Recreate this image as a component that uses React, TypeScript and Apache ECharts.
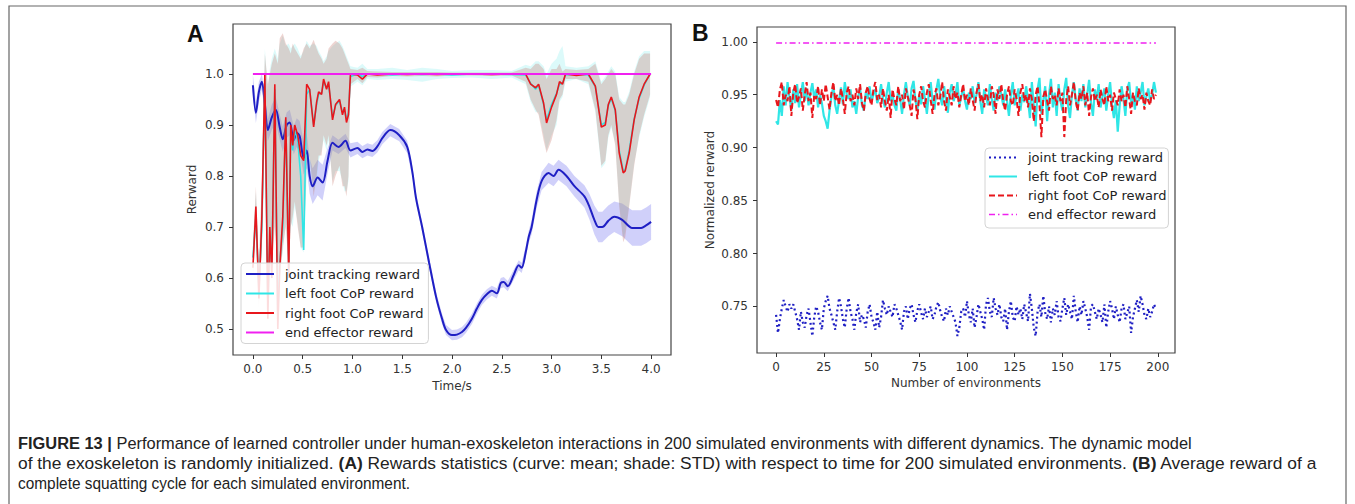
import React, { useEffect, useRef } from 'react';
import * as echarts from 'echarts';

// ---------- Panel A: reward vs time ----------
const A_X_TICKS = [0, 0.5, 1, 1.5, 2, 2.5, 3, 3.5, 4];
const A_Y_TICKS = [0.5, 0.6, 0.7, 0.8, 0.9, 1.0];
const LEGEND_NAMES = ['joint tracking reward', 'left foot CoP reward', 'right foot CoP reward', 'end effector reward'];

const JOINT_T = [
  0.00, 0.03, 0.06, 0.09, 0.12, 0.15, 0.19, 0.23, 0.27, 0.30,
  0.34, 0.37, 0.41, 0.44, 0.47, 0.51, 0.54, 0.57, 0.60, 0.65,
  0.70, 0.75, 0.80, 0.86, 0.93, 0.98, 1.05, 1.10, 1.15, 1.20,
  1.25, 1.30, 1.38, 1.47, 1.55, 1.60, 1.64, 1.70, 1.77, 1.84,
  1.90, 1.94, 2.00, 2.05, 2.10, 2.14, 2.20, 2.25, 2.30, 2.35,
  2.40, 2.45, 2.49, 2.52, 2.56, 2.62, 2.67, 2.70, 2.74, 2.77,
  2.80, 2.85, 2.90, 2.97, 3.02, 3.07, 3.15, 3.23, 3.33, 3.38,
  3.43, 3.47, 3.51, 3.57, 3.63, 3.71, 3.81, 3.90, 3.95, 4.00,
];
const JOINT_MEAN = [
  0.978, 0.924, 0.965, 0.985, 0.940, 0.890, 0.915, 0.930, 0.895, 0.872,
  0.900, 0.905, 0.870, 0.885, 0.878, 0.835, 0.850, 0.800, 0.780, 0.797,
  0.787, 0.830, 0.865, 0.857, 0.869, 0.850, 0.855, 0.847, 0.852, 0.849,
  0.858, 0.874, 0.890, 0.880, 0.857, 0.810, 0.755, 0.700, 0.630, 0.563,
  0.520, 0.498, 0.488, 0.489, 0.494, 0.502, 0.520, 0.540, 0.557, 0.568,
  0.575, 0.570, 0.590, 0.592, 0.584, 0.606, 0.625, 0.620, 0.650, 0.680,
  0.700, 0.753, 0.790, 0.806, 0.800, 0.812, 0.800, 0.780, 0.760, 0.740,
  0.714, 0.700, 0.700, 0.712, 0.720, 0.714, 0.698, 0.698, 0.703, 0.710,
];
const JOINT_STD = [
  0.020, 0.020, 0.020, 0.015, 0.020, 0.022, 0.025, 0.025, 0.025, 0.025,
  0.025, 0.025, 0.028, 0.028, 0.030, 0.032, 0.035, 0.035, 0.035, 0.035,
  0.035, 0.025, 0.015, 0.014, 0.014, 0.014, 0.012, 0.012, 0.012, 0.012,
  0.012, 0.012, 0.012, 0.012, 0.012, 0.010, 0.010, 0.010, 0.010, 0.010,
  0.010, 0.010, 0.010, 0.010, 0.010, 0.010, 0.010, 0.010, 0.010, 0.010,
  0.010, 0.010, 0.010, 0.010, 0.010, 0.010, 0.010, 0.010, 0.012, 0.012,
  0.014, 0.016, 0.018, 0.020, 0.020, 0.020, 0.020, 0.020, 0.022, 0.025,
  0.028, 0.030, 0.030, 0.030, 0.030, 0.032, 0.035, 0.035, 0.035, 0.035,
];

const FOOT_T = [
  0.00, 0.03, 0.06, 0.09, 0.12, 0.15, 0.17, 0.19, 0.22, 0.25,
  0.27, 0.30, 0.33, 0.36, 0.38, 0.40, 0.42, 0.45, 0.48, 0.51,
  0.54, 0.57, 0.61, 0.64, 0.66, 0.69, 0.71, 0.74, 0.76, 0.80,
  0.83, 0.87, 0.90, 0.92, 0.94, 0.96, 0.98, 1.05, 1.10, 1.15,
  1.25, 1.40, 1.55, 1.70, 1.85, 2.00, 2.20, 2.40, 2.60, 2.74,
  2.79, 2.84, 2.87, 2.92, 2.95, 3.00, 3.05, 3.08, 3.11, 3.14,
  3.25, 3.37, 3.44, 3.50, 3.54, 3.57, 3.60, 3.64, 3.68, 3.72,
  3.74, 3.78, 3.83, 3.88, 3.93, 3.99,
];
const RIGHT_MEAN = [
  0.62, 0.74, 0.56, 0.72, 1.00, 0.52, 0.70, 0.60, 0.98, 0.50,
  0.62, 0.72, 0.915, 0.60, 0.90, 0.86, 0.90, 0.88, 0.84, 0.83,
  0.98, 0.97, 0.896, 0.945, 0.965, 0.96, 0.99, 0.97, 0.985, 0.91,
  0.94, 0.95, 0.92, 0.935, 0.905, 0.92, 1.00, 0.998, 0.99, 1.00,
  0.998, 1.00, 0.999, 1.00, 0.999, 1.00, 1.00, 0.999, 1.00, 1.00,
  0.98, 0.973, 0.98, 0.943, 0.904, 0.935, 0.96, 0.985, 0.98, 1.00,
  0.997, 1.00, 0.976, 0.896, 0.90, 0.94, 0.955, 0.93, 0.845, 0.806,
  0.81, 0.845, 0.91, 0.955, 0.98, 1.00,
];
// shaded band (mean ± STD) boundaries of the right foot reward
const RIGHT_LO = [
  0.60, 0.70, 0.54, 0.66, 0.88, 0.60, 0.64, 0.62, 0.70, 0.62,
  0.60, 0.66, 0.70, 0.62, 0.70, 0.72, 0.75, 0.70, 0.66, 0.66,
  0.82, 0.84, 0.76, 0.80, 0.84, 0.84, 0.88, 0.86, 0.88, 0.78,
  0.80, 0.82, 0.78, 0.78, 0.76, 0.80, 0.98, 0.99, 0.982, 0.994,
  0.993, 0.996, 0.995, 0.996, 0.995, 0.997, 0.997, 0.996, 0.997, 0.985,
  0.95, 0.93, 0.92, 0.87, 0.845, 0.87, 0.91, 0.95, 0.96, 0.99,
  0.99, 0.985, 0.93, 0.82, 0.83, 0.88, 0.90, 0.86, 0.74, 0.67,
  0.68, 0.74, 0.82, 0.88, 0.92, 0.96,
];
const RIGHT_HI = [
  0.66, 0.78, 0.62, 0.80, 1.04, 0.98, 1.00, 1.02, 1.04, 1.02,
  1.07, 1.08, 1.06, 1.05, 1.04, 1.06, 1.05, 1.04, 1.03, 1.05,
  1.06, 1.05, 1.067, 1.05, 1.04, 1.03, 1.02, 1.03, 1.05, 1.06,
  1.065, 1.06, 1.05, 1.04, 1.03, 1.02, 1.01, 1.008, 1.012, 1.006,
  1.005, 1.004, 1.004, 1.004, 1.004, 1.003, 1.003, 1.003, 1.003, 1.012,
  1.01, 1.02, 1.02, 1.01, 0.99, 1.01, 1.01, 1.02, 1.005, 1.01,
  1.008, 1.01, 1.02, 0.98, 0.99, 1.00, 1.01, 1.00, 0.95, 0.94,
  0.94, 0.96, 1.00, 1.03, 1.04, 1.04,
];
const LEFT_MEAN = [
  0.64, 0.72, 0.58, 0.70, 0.99, 0.55, 0.68, 0.62, 0.97, 0.53,
  0.63, 0.70, 0.91, 0.62, 0.89, 0.85, 0.89, 0.87, 0.80, 0.655,
  0.96, 0.97, 0.90, 0.94, 0.96, 0.962, 0.985, 0.972, 0.98, 0.915,
  0.938, 0.948, 0.925, 0.93, 0.91, 0.925, 0.995, 1.00, 0.995, 1.00,
  1.00, 0.998, 1.00, 0.999, 1.00, 0.998, 1.00, 1.00, 0.999, 0.998,
  0.982, 0.97, 0.978, 0.94, 0.91, 0.94, 0.962, 0.98, 0.982, 0.998,
  1.00, 0.998, 0.975, 0.90, 0.905, 0.938, 0.952, 0.928, 0.85, 0.81,
  0.812, 0.85, 0.912, 0.952, 0.978, 1.00,
];
const LEFT_LO = [
  0.62, 0.69, 0.55, 0.66, 0.90, 0.62, 0.63, 0.63, 0.72, 0.60,
  0.61, 0.65, 0.71, 0.63, 0.71, 0.70, 0.74, 0.71, 0.66, 0.65,
  0.80, 0.83, 0.77, 0.79, 0.83, 0.85, 0.87, 0.85, 0.87, 0.79,
  0.81, 0.81, 0.79, 0.77, 0.77, 0.79, 0.975, 0.985, 0.978, 0.99,
  0.988, 0.99, 0.988, 0.985, 0.99, 0.992, 0.993, 0.99, 0.993, 0.98,
  0.945, 0.925, 0.925, 0.88, 0.85, 0.88, 0.90, 0.945, 0.955, 0.985,
  0.99, 0.98, 0.925, 0.815, 0.825, 0.875, 0.895, 0.865, 0.745, 0.68,
  0.69, 0.745, 0.825, 0.875, 0.915, 0.955,
];
const LEFT_HI = [
  0.67, 0.77, 0.63, 0.78, 1.05, 0.97, 1.01, 1.03, 1.05, 1.03,
  1.06, 1.075, 1.055, 1.06, 1.05, 1.055, 1.06, 1.05, 1.035, 1.045,
  1.065, 1.055, 1.06, 1.055, 1.045, 1.035, 1.025, 1.035, 1.045, 1.055,
  1.06, 1.065, 1.055, 1.045, 1.035, 1.025, 1.015, 1.012, 1.02, 1.01,
  1.01, 1.012, 1.008, 1.012, 1.01, 1.006, 1.008, 1.008, 1.006, 1.018,
  1.015, 1.025, 1.025, 1.015, 1.0, 1.02, 1.03, 1.045, 1.055, 1.015,
  1.012, 1.015, 1.025, 0.985, 0.995, 1.005, 1.015, 1.005, 0.955, 0.945,
  0.945, 0.965, 1.005, 1.035, 1.045, 1.045,
];
const END_A_T = [0, 4];
const END_A = [1.0, 1.0];

// ---------- Panel B: average reward per environment ----------
const B_X_TICKS = [0, 25, 50, 75, 100, 125, 150, 175, 200];
const B_Y_TICKS = [0.75, 0.8, 0.85, 0.9, 0.95, 1.0];

const JOINT_B = [
  0.742, 0.725, 0.738, 0.748, 0.756, 0.750, 0.745, 0.752, 0.748, 0.752, 0.745, 0.738, 0.728, 0.745, 0.735, 0.730, 0.742, 0.748, 0.735, 0.722,
  0.740, 0.750, 0.745, 0.735, 0.728, 0.748, 0.755, 0.760, 0.748, 0.742, 0.735, 0.728, 0.745, 0.758, 0.750, 0.738, 0.730, 0.748, 0.758, 0.745,
  0.738, 0.728, 0.744, 0.752, 0.735, 0.742, 0.738, 0.730, 0.745, 0.752, 0.740, 0.735, 0.728, 0.745, 0.730, 0.740, 0.756, 0.748, 0.742, 0.750,
  0.745, 0.740, 0.752, 0.748, 0.742, 0.736, 0.728, 0.745, 0.750, 0.738, 0.748, 0.752, 0.742, 0.735, 0.746, 0.752, 0.744, 0.738, 0.748, 0.740,
  0.745, 0.750, 0.738, 0.742, 0.750, 0.754, 0.746, 0.740, 0.736, 0.748, 0.742, 0.750, 0.745, 0.740, 0.735, 0.722, 0.730, 0.745, 0.748, 0.740,
  0.755, 0.742, 0.735, 0.748, 0.730, 0.740, 0.752, 0.745, 0.738, 0.728, 0.752, 0.758, 0.745, 0.740, 0.758, 0.748, 0.742, 0.752, 0.740, 0.736,
  0.748, 0.728, 0.745, 0.755, 0.740, 0.736, 0.750, 0.742, 0.748, 0.738, 0.752, 0.744, 0.736, 0.762, 0.748, 0.730, 0.722, 0.745, 0.752, 0.740,
  0.760, 0.744, 0.738, 0.750, 0.735, 0.748, 0.742, 0.755, 0.740, 0.736, 0.748, 0.758, 0.742, 0.752, 0.745, 0.738, 0.760, 0.745, 0.735, 0.750,
  0.742, 0.755, 0.748, 0.740, 0.728, 0.750, 0.752, 0.745, 0.738, 0.748, 0.742, 0.735, 0.752, 0.730, 0.745, 0.755, 0.748, 0.738, 0.750, 0.742,
  0.735, 0.748, 0.752, 0.738, 0.744, 0.750, 0.725, 0.740, 0.748, 0.756, 0.745, 0.760, 0.752, 0.742, 0.738, 0.748, 0.740, 0.745, 0.752, 0.748,
];
const LEFT_B = [
  0.925, 0.922, 0.945, 0.930, 0.958, 0.940, 0.962, 0.948, 0.935, 0.955, 0.942, 0.960, 0.938, 0.950, 0.962, 0.944, 0.956, 0.940, 0.952, 0.961,
  0.946, 0.955, 0.938, 0.950, 0.942, 0.930, 0.925, 0.918, 0.935, 0.948, 0.958, 0.940, 0.932, 0.945, 0.957, 0.941, 0.962, 0.950, 0.946, 0.955,
  0.938, 0.944, 0.932, 0.948, 0.956, 0.940, 0.935, 0.952, 0.946, 0.958, 0.944, 0.950, 0.955, 0.942, 0.948, 0.960, 0.946, 0.938, 0.952, 0.962,
  0.944, 0.950, 0.940, 0.935, 0.955, 0.946, 0.932, 0.950, 0.962, 0.948, 0.940, 0.956, 0.963, 0.945, 0.935, 0.950, 0.941, 0.958, 0.946, 0.932,
  0.950, 0.962, 0.944, 0.936, 0.955, 0.965, 0.948, 0.940, 0.958, 0.945, 0.933, 0.952, 0.960, 0.944, 0.950, 0.962, 0.940, 0.948, 0.956, 0.944,
  0.936, 0.952, 0.946, 0.958, 0.942, 0.950, 0.962, 0.944, 0.932, 0.955, 0.948, 0.940, 0.960, 0.946, 0.935, 0.952, 0.944, 0.958, 0.950, 0.940,
  0.955, 0.944, 0.930, 0.950, 0.962, 0.940, 0.948, 0.956, 0.935, 0.950, 0.943, 0.958, 0.945, 0.928, 0.962, 0.940, 0.920, 0.955, 0.966, 0.932,
  0.945, 0.958, 0.925, 0.950, 0.965, 0.938, 0.952, 0.930, 0.960, 0.944, 0.935, 0.955, 0.966, 0.940, 0.928, 0.950, 0.962, 0.945, 0.935, 0.956,
  0.944, 0.960, 0.938, 0.950, 0.964, 0.942, 0.930, 0.955, 0.946, 0.960, 0.938, 0.948, 0.956, 0.935, 0.950, 0.962, 0.940, 0.928, 0.945, 0.915,
  0.940, 0.958, 0.946, 0.930, 0.955, 0.962, 0.942, 0.950, 0.936, 0.958, 0.944, 0.952, 0.962, 0.940, 0.948, 0.956, 0.944, 0.950, 0.962, 0.952,
];
const RIGHT_B = [
  0.945, 0.938, 0.955, 0.962, 0.940, 0.950, 0.944, 0.958, 0.930, 0.952, 0.960, 0.942, 0.948, 0.956, 0.935, 0.950, 0.962, 0.944, 0.952, 0.928,
  0.950, 0.946, 0.958, 0.940, 0.955, 0.944, 0.960, 0.948, 0.936, 0.952, 0.962, 0.944, 0.950, 0.940, 0.956, 0.946, 0.932, 0.952, 0.958, 0.944,
  0.950, 0.940, 0.956, 0.946, 0.960, 0.942, 0.935, 0.952, 0.958, 0.946, 0.940, 0.955, 0.962, 0.945, 0.950, 0.938, 0.956, 0.944, 0.935, 0.950,
  0.928, 0.955, 0.946, 0.940, 0.958, 0.944, 0.950, 0.936, 0.956, 0.948, 0.940, 0.930, 0.955, 0.946, 0.927, 0.950, 0.958, 0.944, 0.938, 0.952,
  0.960, 0.945, 0.932, 0.950, 0.956, 0.940, 0.948, 0.962, 0.944, 0.935, 0.955, 0.948, 0.940, 0.958, 0.946, 0.952, 0.938, 0.950, 0.960, 0.944,
  0.950, 0.940, 0.956, 0.945, 0.935, 0.952, 0.960, 0.944, 0.950, 0.938, 0.956, 0.946, 0.940, 0.958, 0.950, 0.932, 0.955, 0.946, 0.960, 0.944,
  0.935, 0.950, 0.958, 0.944, 0.940, 0.955, 0.946, 0.930, 0.952, 0.960, 0.944, 0.950, 0.938, 0.956, 0.946, 0.925, 0.950, 0.958, 0.940, 0.910,
  0.948, 0.955, 0.944, 0.935, 0.958, 0.946, 0.950, 0.940, 0.956, 0.944, 0.952, 0.910, 0.945, 0.958, 0.940, 0.950, 0.962, 0.944, 0.935, 0.952,
  0.946, 0.958, 0.940, 0.952, 0.930, 0.948, 0.956, 0.944, 0.950, 0.938, 0.955, 0.946, 0.940, 0.958, 0.944, 0.950, 0.935, 0.952, 0.946, 0.940,
  0.955, 0.944, 0.950, 0.938, 0.958, 0.946, 0.932, 0.952, 0.944, 0.940, 0.956, 0.946, 0.950, 0.936, 0.952, 0.944, 0.940, 0.955, 0.946, 0.950,
];
const END_B_ENV = [0, 199];
const END_B = [0.999, 0.999];

const CAPTION = [
  [{ b: 'FIGURE 13 |' }, { r: ' Performance of learned controller under human-exoskeleton interactions in 200 simulated environments with different dynamics. The dynamic model' }],
  [{ r: 'of the exoskeleton is randomly initialized. ' }, { b: '(A)' }, { r: ' Rewards statistics (curve: mean; shade: STD) with respect to time for 200 simulated environments. ' }, { b: '(B)' }, { r: ' Average reward of a' }],
  [{ r: 'complete squatting cycle for each simulated environment.' }],
];
const CAPTION_WIDTHS = [1175, 1300, 392];

const C_BLUE = '#1f1fc4';
const C_CYAN = '#30e6e6';
const C_RED = '#e8161c';
const C_MAG = '#f020f0';
const FONT = 'DejaVu Sans';
const CAP_FONT = 'Liberation Sans';
const CAP_SIZE = 17;

const pairs = (xs: number[], ys: number[]) => xs.map((x, i) => [x, ys[i]]);

function band(name: string, gi: number, T: number[], lo: number[], hi: number[], fill: string, z: number) {
  return {
    type: 'custom',
    name,
    xAxisIndex: gi,
    yAxisIndex: gi,
    silent: true,
    clip: true,
    z,
    data: [[T[0], lo[0]]],
    encode: { x: 0, y: 1 },
    renderItem: (_p: any, api: any) => {
      const up = T.map((t, i) => api.coord([t, hi[i]]));
      const dn = T.map((t, i) => api.coord([t, lo[i]])).reverse();
      return { type: 'polygon', shape: { points: up.concat(dn) }, style: { fill, stroke: 'none' } };
    },
  };
}

function axis(gi: number, min: number, max: number, ticks: number[], fmt: (v: number) => string, name: string, nameGap: number, margin: number) {
  return {
    type: 'value',
    gridIndex: gi,
    min,
    max,
    name,
    nameLocation: 'middle',
    nameGap,
    nameMoveOverlap: false,
    nameTextStyle: { fontFamily: FONT, fontSize: 12, color: '#333' },
    axisLine: { show: false, onZero: false },
    splitLine: { show: false },
    axisTick: { show: true, inside: false, length: 4, customValues: ticks, lineStyle: { color: '#333', width: 1 } },
    axisLabel: { customValues: ticks, formatter: fmt, fontFamily: FONT, fontSize: 12, color: '#333', margin },
  };
}

function measure(ctx: CanvasRenderingContext2D, parts: any[]) {
  let w = 0;
  for (const p of parts) {
    ctx.font = (p.b ? 'bold ' : '') + CAP_SIZE + 'px "' + CAP_FONT + '"';
    w += ctx.measureText(p.b || p.r).width;
  }
  return w;
}

const HIDE = { color: 'rgba(0,0,0,0)', borderWidth: 0, borderColor: 'rgba(0,0,0,0)' };

export default function App() {
  const ref = useRef<HTMLDivElement>(null);
  useEffect(() => {
    if (!ref.current) return;
    const chart = echarts.init(ref.current, undefined, { renderer: 'svg' });
    const ctx = document.createElement('canvas').getContext('2d') as CanvasRenderingContext2D;
    const capScales = CAPTION.map((parts, i) => CAPTION_WIDTHS[i] / measure(ctx, parts));

    const legendBase = {
      orient: 'vertical',
      itemWidth: 28,
      itemHeight: 14,
      itemGap: 6.5,
      backgroundColor: 'rgba(255,255,255,0.85)',
      borderColor: '#d4d4d4',
      borderWidth: 1,
      borderRadius: 4,
      textStyle: { fontFamily: FONT, fontSize: 13, color: '#222', padding: [0, 0, 0, 6] },
    };
    const option: any = {
      animation: false,
      backgroundColor: '#fff',
      grid: [
        { left: 233, top: 24, width: 438, height: 331, show: true, borderColor: '#444', borderWidth: 1.2, backgroundColor: 'transparent' },
        { left: 757, top: 27, width: 418, height: 326, show: true, borderColor: '#444', borderWidth: 1.2, backgroundColor: 'transparent' },
      ],
      xAxis: [
        axis(0, -0.2, 4.2, A_X_TICKS, (v) => v.toFixed(1), 'Time/s', 25, 8),
        axis(1, -10, 209, B_X_TICKS, (v) => String(Math.round(v)), 'Number of environments', 24, 8),
      ],
      yAxis: [
        axis(0, 0.449, 1.098, A_Y_TICKS, (v) => v.toFixed(1), 'Rerward', 35, 9),
        axis(1, 0.706, 1.014, B_Y_TICKS, (v) => v.toFixed(2), 'Normalized rerward', 41, 9),
      ],
      legend: [
        {
          ...legendBase,
          left: 241,
          top: 263,
          padding: [4.5, 5, 4.5, 4],
          data: [
            { name: LEGEND_NAMES[0], lineStyle: { color: C_BLUE, width: 2, type: 'solid' }, itemStyle: HIDE },
            { name: LEGEND_NAMES[1], lineStyle: { color: C_CYAN, width: 2, type: 'solid' }, itemStyle: HIDE },
            { name: LEGEND_NAMES[2], lineStyle: { color: C_RED, width: 2, type: 'solid' }, itemStyle: HIDE },
            { name: LEGEND_NAMES[3], lineStyle: { color: C_MAG, width: 2, type: 'solid' }, itemStyle: HIDE },
          ],
        },
        {
          ...legendBase,
          left: 985,
          top: 148,
          itemGap: 6,
          padding: [3, 2, 7, 3],
          data: [
            { name: LEGEND_NAMES[0], lineStyle: { color: C_BLUE, width: 2, type: [2, 3] }, itemStyle: HIDE },
            { name: LEGEND_NAMES[1], lineStyle: { color: C_CYAN, width: 2, type: 'solid' }, itemStyle: HIDE },
            { name: LEGEND_NAMES[2], lineStyle: { color: C_RED, width: 2, type: [6, 3] }, itemStyle: HIDE },
            { name: LEGEND_NAMES[3], lineStyle: { color: C_MAG, width: 1.5, type: [6, 3, 1.5, 3] }, itemStyle: HIDE },
          ],
        },
      ],
      series: [
        band('joint band', 0, JOINT_T, JOINT_MEAN.map((m, i) => m - JOINT_STD[i]), JOINT_MEAN.map((m, i) => m + JOINT_STD[i]), 'rgba(100,100,240,0.30)', 1),
        band('left band', 0, FOOT_T, LEFT_LO, LEFT_HI, 'rgba(60,225,225,0.18)', 1),
        band('right band', 0, FOOT_T, RIGHT_LO, RIGHT_HI, 'rgba(200,115,105,0.30)', 1),
        { type: 'line', name: LEGEND_NAMES[0], xAxisIndex: 0, yAxisIndex: 0, data: pairs(JOINT_T, JOINT_MEAN), showSymbol: false, symbol: 'none', smooth: 0.3, lineStyle: { color: C_BLUE, width: 2 }, itemStyle: { color: C_BLUE }, z: 3 },
        { type: 'line', name: LEGEND_NAMES[1], xAxisIndex: 0, yAxisIndex: 0, data: pairs(FOOT_T, LEFT_MEAN), showSymbol: false, symbol: 'none', lineStyle: { color: C_CYAN, width: 1.6 }, itemStyle: { color: C_CYAN }, z: 3 },
        { type: 'line', name: LEGEND_NAMES[2], xAxisIndex: 0, yAxisIndex: 0, data: pairs(FOOT_T, RIGHT_MEAN), showSymbol: false, symbol: 'none', lineStyle: { color: C_RED, width: 1.6 }, itemStyle: { color: C_RED }, z: 3 },
        { type: 'line', name: LEGEND_NAMES[3], xAxisIndex: 0, yAxisIndex: 0, data: pairs(END_A_T, END_A), showSymbol: false, symbol: 'none', lineStyle: { color: C_MAG, width: 2 }, itemStyle: { color: C_MAG }, z: 3 },

        { type: 'line', name: LEGEND_NAMES[0], xAxisIndex: 1, yAxisIndex: 1, data: JOINT_B.map((v, i) => [i, v]), showSymbol: false, symbol: 'none', lineStyle: { color: C_BLUE, width: 2.2, type: [2, 3] }, itemStyle: { color: C_BLUE }, z: 3 },
        { type: 'line', name: LEGEND_NAMES[1], xAxisIndex: 1, yAxisIndex: 1, data: LEFT_B.map((v, i) => [i, v]), showSymbol: false, symbol: 'none', lineStyle: { color: C_CYAN, width: 2.2 }, itemStyle: { color: C_CYAN }, z: 3 },
        { type: 'line', name: LEGEND_NAMES[2], xAxisIndex: 1, yAxisIndex: 1, data: RIGHT_B.map((v, i) => [i, v]), showSymbol: false, symbol: 'none', lineStyle: { color: C_RED, width: 2, type: [6, 3] }, itemStyle: { color: C_RED }, z: 3 },
        { type: 'line', name: LEGEND_NAMES[3], xAxisIndex: 1, yAxisIndex: 1, data: pairs(END_B_ENV, END_B), showSymbol: false, symbol: 'none', lineStyle: { color: C_MAG, width: 1.5, type: [6, 3, 1.5, 3] }, itemStyle: { color: C_MAG }, z: 3 },
      ],
      graphic: [
        { type: 'rect', silent: true, shape: { x: 9, y: 6, width: 1337, height: 520 }, style: { fill: 'none', stroke: '#666', lineWidth: 1.2 } },
        { type: 'text', x: 187, y: 34, style: { text: 'A', fontFamily: 'Liberation Sans', fontWeight: 'bold', fontSize: 23, fill: '#111', verticalAlign: 'middle' } },
        { type: 'text', x: 692, y: 33, style: { text: 'B', fontFamily: 'Liberation Sans', fontWeight: 'bold', fontSize: 23, fill: '#111', verticalAlign: 'middle' } },
        ...CAPTION.map((parts, i) => ({
          type: 'text',
          x: 18,
          y: 443 + i * 20,
          scaleX: capScales[i],
          style: {
            text: parts.map((p: any) => (p.b ? '{b|' + p.b + '}' : p.r)).join(''),
            fontFamily: CAP_FONT,
            fontSize: CAP_SIZE,
            fill: '#222',
            verticalAlign: 'middle',
            rich: { b: { fontFamily: CAP_FONT, fontSize: CAP_SIZE, fontWeight: 'bold', fill: '#222' } },
          },
        })),
      ],
    };
    chart.setOption(option);
    return () => chart.dispose();
  }, []);
  return <div ref={ref} style={{ position: 'fixed', left: 0, top: 0, width: 1355, height: 504 }} />;
}
